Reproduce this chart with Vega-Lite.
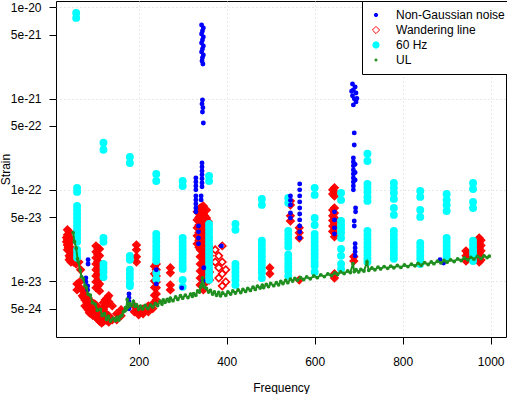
{
"$schema": "https://vega.github.io/schema/vega-lite/v6.json",
"width": 450, "height": 336,
"autosize": {"type": "none"},
"padding": {"left": 56, "top": 1, "right": 1, "bottom": 57},
"background": "white",
"config": {
 "view": {"stroke": "black", "strokeWidth": 1},
 "font": "Liberation Sans",
 "axis": {"labelFont": "Liberation Sans", "titleFont": "Liberation Sans", "labelFontSize": 12, "titleFontSize": 12, "titleFontWeight": "normal", "labelColor": "black", "titleColor": "black", "tickColor": "black", "domain": false, "tickSize": 7},
 "legend": {"orient": "none", "legendX": 306, "legendY": 0, "strokeColor": "black", "fillColor": "white", "padding": 8, "labelFont": "Liberation Sans", "labelFontSize": 12, "labelColor": "black", "rowPadding": 3, "labelOffset": 14, "symbolStrokeWidth": 1, "cornerRadius": 0, "labelLimit": 300}
},
"data": {"values": [
{"f":38,"s":3.64e-23,"type":"Wandering line"},{"f":38,"s":3.21e-23,"type":"Wandering line"},{"f":38,"s":2.83e-23,"type":"Wandering line"},{"f":38,"s":2.49e-23,"type":"Wandering line"},{"f":38,"s":2.20e-23,"type":"Wandering line"},
{"f":36,"s":3.0e-23,"type":"Wandering line"},{"f":36,"s":2.7e-23,"type":"Wandering line"},{"f":40,"s":2.6e-23,"type":"Wandering line"},{"f":40,"s":2.35e-23,"type":"Wandering line"},{"f":44,"s":3.0e-23,"type":"Wandering line"},{"f":44,"s":2.1e-23,"type":"Wandering line"},{"f":44,"s":1.8e-23,"type":"Wandering line"},
{"f":42,"s":3.46e-23,"type":"Wandering line"},{"f":42,"s":2.97e-23,"type":"Wandering line"},{"f":42,"s":2.56e-23,"type":"Wandering line"},{"f":42,"s":2.20e-23,"type":"Wandering line"},{"f":42,"s":1.89e-23,"type":"Wandering line"},{"f":42,"s":1.71e-23,"type":"Wandering line"},
{"f":46,"s":2.83e-23,"type":"Wandering line"},{"f":46,"s":2.31e-23,"type":"Wandering line"},{"f":46,"s":1.94e-23,"type":"Wandering line"},{"f":46,"s":1.62e-23,"type":"Wandering line"},
{"f":52,"s":1.89e-23,"type":"Wandering line"},{"f":52,"s":1.62e-23,"type":"Wandering line"},{"f":58,"s":1.80e-23,"type":"Wandering line"},{"f":58,"s":1.54e-23,"type":"Wandering line"},
{"f":64,"s":1.62e-23,"type":"Wandering line"},{"f":68,"s":1.33e-23,"type":"Wandering line"},{"f":60,"s":9.31e-24,"type":"Wandering line"},{"f":60,"s":8.01e-24,"type":"Wandering line"},{"f":66,"s":9.80e-24,"type":"Wandering line"},{"f":66,"s":8.43e-24,"type":"Wandering line"},
{"f":72,"s":8.01e-24,"type":"Wandering line"},{"f":72,"s":6.89e-24,"type":"Wandering line"},{"f":75,"s":7.8e-24,"type":"Wandering line"},{"f":75,"s":6.6e-24,"type":"Wandering line"},
{"f":78,"s":7.24e-24,"type":"Wandering line"},{"f":78,"s":6.22e-24,"type":"Wandering line"},{"f":78,"s":5.35e-24,"type":"Wandering line"},
{"f":82,"s":6.9e-24,"type":"Wandering line"},{"f":82,"s":5.9e-24,"type":"Wandering line"},{"f":82,"s":5.1e-24,"type":"Wandering line"},
{"f":85,"s":6.55e-24,"type":"Wandering line"},{"f":85,"s":5.62e-24,"type":"Wandering line"},{"f":85,"s":4.84e-24,"type":"Wandering line"},
{"f":88,"s":6.1e-24,"type":"Wandering line"},{"f":88,"s":5.2e-24,"type":"Wandering line"},{"f":88,"s":4.5e-24,"type":"Wandering line"},
{"f":92,"s":5.92e-24,"type":"Wandering line"},{"f":92,"s":5.08e-24,"type":"Wandering line"},{"f":92,"s":4.38e-24,"type":"Wandering line"},
{"f":96,"s":5.7e-24,"type":"Wandering line"},{"f":96,"s":4.9e-24,"type":"Wandering line"},{"f":96,"s":4.2e-24,"type":"Wandering line"},
{"f":100,"s":5.62e-24,"type":"Wandering line"},{"f":100,"s":4.84e-24,"type":"Wandering line"},{"f":100,"s":4.16e-24,"type":"Wandering line"},
{"f":104,"s":5.4e-24,"type":"Wandering line"},{"f":104,"s":4.6e-24,"type":"Wandering line"},{"f":104,"s":4.0e-24,"type":"Wandering line"},
{"f":108,"s":5.08e-24,"type":"Wandering line"},{"f":108,"s":4.38e-24,"type":"Wandering line"},{"f":108,"s":3.76e-24,"type":"Wandering line"},
{"f":112,"s":4.8e-24,"type":"Wandering line"},{"f":112,"s":4.1e-24,"type":"Wandering line"},{"f":112,"s":3.6e-24,"type":"Wandering line"},
{"f":116,"s":4.60e-24,"type":"Wandering line"},{"f":116,"s":3.95e-24,"type":"Wandering line"},{"f":116,"s":3.48e-24,"type":"Wandering line"},
{"f":120,"s":5.8e-24,"type":"Wandering line"},{"f":120,"s":4.9e-24,"type":"Wandering line"},{"f":120,"s":4.1e-24,"type":"Wandering line"},{"f":120,"s":3.6e-24,"type":"Wandering line"},
{"f":124,"s":6.22e-24,"type":"Wandering line"},{"f":124,"s":5.35e-24,"type":"Wandering line"},{"f":124,"s":4.38e-24,"type":"Wandering line"},{"f":124,"s":3.76e-24,"type":"Wandering line"},
{"f":128,"s":6.5e-24,"type":"Wandering line"},{"f":128,"s":5.6e-24,"type":"Wandering line"},{"f":128,"s":4.3e-24,"type":"Wandering line"},{"f":128,"s":3.7e-24,"type":"Wandering line"},
{"f":132,"s":6.89e-24,"type":"Wandering line"},{"f":132,"s":5.92e-24,"type":"Wandering line"},{"f":132,"s":4.16e-24,"type":"Wandering line"},{"f":132,"s":3.57e-24,"type":"Wandering line"},
{"f":140,"s":5.35e-24,"type":"Wandering line"},{"f":140,"s":3.76e-24,"type":"Wandering line"},{"f":150,"s":4.38e-24,"type":"Wandering line"},{"f":150,"s":3.76e-24,"type":"Wandering line"},
{"f":103,"s":2.43e-23,"type":"Wandering line"},{"f":103,"s":2.09e-23,"type":"Wandering line"},{"f":103,"s":1.80e-23,"type":"Wandering line"},{"f":103,"s":1.54e-23,"type":"Wandering line"},{"f":103,"s":1.33e-23,"type":"Wandering line"},{"f":103,"s":1.14e-23,"type":"Wandering line"},{"f":103,"s":9.80e-24,"type":"Wandering line"},{"f":103,"s":8.43e-24,"type":"Wandering line"},
{"f":107,"s":2.3e-23,"type":"Wandering line"},{"f":107,"s":1.95e-23,"type":"Wandering line"},{"f":107,"s":1.65e-23,"type":"Wandering line"},{"f":107,"s":1.4e-23,"type":"Wandering line"},{"f":107,"s":1.2e-23,"type":"Wandering line"},{"f":107,"s":1.02e-23,"type":"Wandering line"},{"f":107,"s":8.8e-24,"type":"Wandering line"},
{"f":111,"s":2.25e-23,"type":"Wandering line"},{"f":111,"s":1.89e-23,"type":"Wandering line"},{"f":111,"s":1.58e-23,"type":"Wandering line"},{"f":111,"s":1.33e-23,"type":"Wandering line"},{"f":111,"s":1.11e-23,"type":"Wandering line"},{"f":111,"s":9.31e-24,"type":"Wandering line"},{"f":111,"s":7.81e-24,"type":"Wandering line"},
{"f":195,"s":2.49e-23,"type":"Wandering line"},{"f":195,"s":2.20e-23,"type":"Wandering line"},{"f":195,"s":1.85e-23,"type":"Wandering line"},{"f":195,"s":1.62e-23,"type":"Wandering line"},
{"f":160,"s":4.84e-24,"type":"Wandering line"},{"f":160,"s":4.16e-24,"type":"Wandering line"},{"f":190,"s":5.35e-24,"type":"Wandering line"},{"f":190,"s":4.60e-24,"type":"Wandering line"},
{"f":200,"s":4.84e-24,"type":"Wandering line"},{"f":200,"s":4.27e-24,"type":"Wandering line"},{"f":210,"s":4.95e-24,"type":"Wandering line"},{"f":210,"s":4.38e-24,"type":"Wandering line"},
{"f":222,"s":5.35e-24,"type":"Wandering line"},{"f":222,"s":4.60e-24,"type":"Wandering line"},{"f":232,"s":5.62e-24,"type":"Wandering line"},{"f":232,"s":5.0e-24,"type":"Wandering line"},
{"f":240,"s":1.54e-23,"type":"Wandering line"},{"f":240,"s":1.33e-23,"type":"Wandering line"},{"f":240,"s":1.14e-23,"type":"Wandering line"},{"f":240,"s":9.80e-24,"type":"Wandering line"},{"f":240,"s":8.43e-24,"type":"Wandering line"},{"f":240,"s":7.24e-24,"type":"Wandering line"},{"f":240,"s":6.22e-24,"type":"Wandering line"},
{"f":236,"s":1.45e-23,"type":"Wandering line"},{"f":236,"s":1.2e-23,"type":"Wandering line"},{"f":236,"s":1.0e-23,"type":"Wandering line"},{"f":236,"s":8.5e-24,"type":"Wandering line"},{"f":236,"s":7.0e-24,"type":"Wandering line"},
{"f":272,"s":1.40e-23,"type":"Wandering line"},{"f":272,"s":1.23e-23,"type":"Wandering line"},{"f":272,"s":9.08e-24,"type":"Wandering line"},{"f":272,"s":8.01e-24,"type":"Wandering line"},
{"f":333,"s":5.73e-23,"type":"Wandering line"},{"f":333,"s":4.68e-23,"type":"Wandering line"},{"f":333,"s":3.83e-23,"type":"Wandering line"},{"f":333,"s":3.13e-23,"type":"Wandering line"},{"f":333,"s":2.56e-23,"type":"Wandering line"},
{"f":337,"s":6.0e-23,"type":"Wandering line"},{"f":337,"s":5.0e-23,"type":"Wandering line"},{"f":337,"s":4.1e-23,"type":"Wandering line"},{"f":337,"s":3.4e-23,"type":"Wandering line"},{"f":337,"s":2.8e-23,"type":"Wandering line"},{"f":337,"s":2.35e-23,"type":"Wandering line"},
{"f":340,"s":6.33e-23,"type":"Wandering line"},{"f":340,"s":5.31e-23,"type":"Wandering line"},{"f":340,"s":4.45e-23,"type":"Wandering line"},{"f":340,"s":3.74e-23,"type":"Wandering line"},{"f":340,"s":3.13e-23,"type":"Wandering line"},{"f":340,"s":2.62e-23,"type":"Wandering line"},{"f":340,"s":2.20e-23,"type":"Wandering line"},{"f":340,"s":1.85e-23,"type":"Wandering line"},{"f":340,"s":1.54e-23,"type":"Wandering line"},{"f":340,"s":1.29e-23,"type":"Wandering line"},{"f":340,"s":1.08e-23,"type":"Wandering line"},{"f":340,"s":9.08e-24,"type":"Wandering line"},
{"f":344,"s":6.5e-23,"type":"Wandering line"},{"f":344,"s":5.4e-23,"type":"Wandering line"},{"f":344,"s":4.4e-23,"type":"Wandering line"},{"f":344,"s":3.6e-23,"type":"Wandering line"},{"f":344,"s":3.0e-23,"type":"Wandering line"},{"f":344,"s":2.45e-23,"type":"Wandering line"},
{"f":347,"s":6.66e-23,"type":"Wandering line"},{"f":347,"s":5.58e-23,"type":"Wandering line"},{"f":347,"s":4.68e-23,"type":"Wandering line"},{"f":347,"s":3.92e-23,"type":"Wandering line"},{"f":347,"s":3.29e-23,"type":"Wandering line"},{"f":347,"s":2.76e-23,"type":"Wandering line"},{"f":347,"s":2.31e-23,"type":"Wandering line"},{"f":347,"s":1.94e-23,"type":"Wandering line"},{"f":347,"s":1.62e-23,"type":"Wandering line"},{"f":347,"s":1.36e-23,"type":"Wandering line"},{"f":347,"s":1.14e-23,"type":"Wandering line"},{"f":347,"s":9.55e-24,"type":"Wandering line"},{"f":347,"s":8.01e-24,"type":"Wandering line"},
{"f":350,"s":5.2e-23,"type":"Wandering line"},{"f":350,"s":4.3e-23,"type":"Wandering line"},{"f":350,"s":3.6e-23,"type":"Wandering line"},{"f":350,"s":3.0e-23,"type":"Wandering line"},{"f":350,"s":2.5e-23,"type":"Wandering line"},{"f":350,"s":2.1e-23,"type":"Wandering line"},{"f":350,"s":1.75e-23,"type":"Wandering line"},{"f":350,"s":1.45e-23,"type":"Wandering line"},{"f":350,"s":1.2e-23,"type":"Wandering line"},{"f":350,"s":1.0e-23,"type":"Wandering line"},
{"f":354,"s":6.02e-23,"type":"Wandering line"},{"f":354,"s":4.92e-23,"type":"Wandering line"},{"f":354,"s":4.02e-23,"type":"Wandering line"},{"f":354,"s":3.29e-23,"type":"Wandering line"},{"f":354,"s":2.69e-23,"type":"Wandering line"},{"f":354,"s":2.20e-23,"type":"Wandering line"},{"f":354,"s":1.80e-23,"type":"Wandering line"},{"f":354,"s":1.47e-23,"type":"Wandering line"},{"f":354,"s":1.20e-23,"type":"Wandering line"},{"f":354,"s":9.80e-24,"type":"Wandering line"},
{"f":358,"s":4.5e-23,"type":"Wandering line"},{"f":358,"s":3.7e-23,"type":"Wandering line"},{"f":358,"s":3.0e-23,"type":"Wandering line"},{"f":358,"s":2.45e-23,"type":"Wandering line"},{"f":358,"s":2.0e-23,"type":"Wandering line"},{"f":358,"s":1.65e-23,"type":"Wandering line"},{"f":358,"s":1.35e-23,"type":"Wandering line"},{"f":358,"s":1.1e-23,"type":"Wandering line"},
{"f":361,"s":2.31e-23,"type":"Wandering line"},{"f":361,"s":1.89e-23,"type":"Wandering line"},{"f":361,"s":1.54e-23,"type":"Wandering line"},{"f":361,"s":1.26e-23,"type":"Wandering line"},{"f":361,"s":1.03e-23,"type":"Wandering line"},
{"f":374,"s":2.20e-23,"type":"Wandering line"},{"f":374,"s":1.62e-23,"type":"Wandering line"},{"f":382,"s":1.89e-23,"type":"Wandering line"},{"f":382,"s":1.40e-23,"type":"Wandering line"},{"f":382,"s":1.08e-23,"type":"Wandering line"},
{"f":390,"s":2.43e-23,"type":"Wandering line"},{"f":390,"s":1.62e-23,"type":"Wandering line"},{"f":390,"s":1.20e-23,"type":"Wandering line"},{"f":390,"s":8.85e-24,"type":"Wandering line"},{"f":398,"s":1.33e-23,"type":"Wandering line"},{"f":398,"s":9.80e-24,"type":"Wandering line"},
{"f":498,"s":1.40e-23,"type":"Wandering line"},{"f":498,"s":1.20e-23,"type":"Wandering line"},
{"f":545,"s":7.56e-23,"type":"Wandering line"},{"f":545,"s":6.83e-23,"type":"Wandering line"},{"f":545,"s":5.18e-23,"type":"Wandering line"},{"f":545,"s":4.56e-23,"type":"Wandering line"},
{"f":565,"s":3.83e-23,"type":"Wandering line"},{"f":565,"s":3.38e-23,"type":"Wandering line"},{"f":565,"s":2.97e-23,"type":"Wandering line"},{"f":565,"s":1.03e-23,"type":"Wandering line"},
{"f":641,"s":1.0e-22,"type":"Wandering line"},{"f":641,"s":9.0e-23,"type":"Wandering line"},{"f":641,"s":6.0e-23,"type":"Wandering line"},{"f":641,"s":5.2e-23,"type":"Wandering line"},{"f":641,"s":4.6e-23,"type":"Wandering line"},{"f":641,"s":4.0e-23,"type":"Wandering line"},{"f":641,"s":3.5e-23,"type":"Wandering line"},
{"f":645,"s":1.05e-22,"type":"Wandering line"},{"f":645,"s":9.48e-23,"type":"Wandering line"},{"f":645,"s":8.57e-23,"type":"Wandering line"},{"f":645,"s":6.33e-23,"type":"Wandering line"},{"f":645,"s":5.58e-23,"type":"Wandering line"},{"f":645,"s":4.92e-23,"type":"Wandering line"},{"f":645,"s":4.34e-23,"type":"Wandering line"},{"f":645,"s":3.83e-23,"type":"Wandering line"},{"f":645,"s":3.38e-23,"type":"Wandering line"},{"f":645,"s":3.05e-23,"type":"Wandering line"},{"f":645,"s":1.20e-23,"type":"Wandering line"},{"f":645,"s":1.08e-23,"type":"Wandering line"},
{"f":689,"s":1.85e-23,"type":"Wandering line"},{"f":689,"s":1.66e-23,"type":"Wandering line"},
{"f":944,"s":2.14e-23,"type":"Wandering line"},{"f":944,"s":1.89e-23,"type":"Wandering line"},{"f":944,"s":1.66e-23,"type":"Wandering line"},{"f":948,"s":2.0e-23,"type":"Wandering line"},{"f":948,"s":1.75e-23,"type":"Wandering line"},
{"f":974,"s":2.97e-23,"type":"Wandering line"},{"f":974,"s":2.62e-23,"type":"Wandering line"},{"f":974,"s":2.31e-23,"type":"Wandering line"},{"f":974,"s":2.04e-23,"type":"Wandering line"},{"f":974,"s":1.80e-23,"type":"Wandering line"},{"f":974,"s":1.62e-23,"type":"Wandering line"},
{"f":978,"s":2.8e-23,"type":"Wandering line"},{"f":978,"s":2.45e-23,"type":"Wandering line"},{"f":978,"s":2.15e-23,"type":"Wandering line"},{"f":978,"s":1.9e-23,"type":"Wandering line"},{"f":978,"s":1.7e-23,"type":"Wandering line"},
{"f":58,"s":8.66e-21,"type":"60 Hz"},{"f":58,"s":7.64e-21,"type":"60 Hz"},
{"f":60,"s":1.05e-22,"type":"60 Hz"},{"f":60,"s":9.48e-23,"type":"60 Hz"},{"f":60,"s":6.66e-23,"type":"60 Hz"},{"f":60,"s":6.02e-23,"type":"60 Hz"},{"f":60,"s":5.44e-23,"type":"60 Hz"},{"f":60,"s":4.92e-23,"type":"60 Hz"},{"f":60,"s":4.45e-23,"type":"60 Hz"},{"f":60,"s":4.02e-23,"type":"60 Hz"},{"f":60,"s":3.64e-23,"type":"60 Hz"},{"f":60,"s":3.29e-23,"type":"60 Hz"},{"f":60,"s":2.97e-23,"type":"60 Hz"},{"f":60,"s":2.69e-23,"type":"60 Hz"},{"f":60,"s":2.20e-23,"type":"60 Hz"},{"f":60,"s":1.99e-23,"type":"60 Hz"},{"f":60,"s":1.80e-23,"type":"60 Hz"},
{"f":120,"s":3.27e-22,"type":"60 Hz"},{"f":120,"s":2.74e-22,"type":"60 Hz"},{"f":120,"s":2.97e-23,"type":"60 Hz"},{"f":120,"s":2.69e-23,"type":"60 Hz"},{"f":120,"s":1.54e-23,"type":"60 Hz"},{"f":120,"s":1.40e-23,"type":"60 Hz"},{"f":120,"s":1.26e-23,"type":"60 Hz"},{"f":120,"s":1.11e-23,"type":"60 Hz"},
{"f":180,"s":2.29e-22,"type":"60 Hz"},{"f":180,"s":1.97e-22,"type":"60 Hz"},{"f":180,"s":1.89e-23,"type":"60 Hz"},{"f":180,"s":1.71e-23,"type":"60 Hz"},{"f":180,"s":1.33e-23,"type":"60 Hz"},{"f":180,"s":1.20e-23,"type":"60 Hz"},{"f":180,"s":1.08e-23,"type":"60 Hz"},{"f":180,"s":9.55e-24,"type":"60 Hz"},{"f":180,"s":8.85e-24,"type":"60 Hz"},
{"f":240,"s":1.49e-22,"type":"60 Hz"},{"f":240,"s":1.25e-22,"type":"60 Hz"},{"f":240,"s":3.29e-23,"type":"60 Hz"},{"f":240,"s":2.97e-23,"type":"60 Hz"},{"f":240,"s":2.69e-23,"type":"60 Hz"},{"f":240,"s":2.43e-23,"type":"60 Hz"},{"f":240,"s":2.20e-23,"type":"60 Hz"},{"f":240,"s":1.99e-23,"type":"60 Hz"},{"f":240,"s":1.80e-23,"type":"60 Hz"},{"f":240,"s":1.66e-23,"type":"60 Hz"},{"f":240,"s":1.23e-23,"type":"60 Hz"},{"f":240,"s":1.05e-23,"type":"60 Hz"},
{"f":300,"s":1.25e-22,"type":"60 Hz"},{"f":300,"s":1.10e-22,"type":"60 Hz"},{"f":300,"s":2.97e-23,"type":"60 Hz"},{"f":300,"s":2.69e-23,"type":"60 Hz"},{"f":300,"s":2.43e-23,"type":"60 Hz"},{"f":300,"s":2.20e-23,"type":"60 Hz"},{"f":300,"s":1.99e-23,"type":"60 Hz"},{"f":300,"s":1.80e-23,"type":"60 Hz"},{"f":300,"s":1.62e-23,"type":"60 Hz"},{"f":300,"s":1.47e-23,"type":"60 Hz"},{"f":300,"s":1.36e-23,"type":"60 Hz"},{"f":300,"s":1.03e-23,"type":"60 Hz"},{"f":300,"s":8.64e-24,"type":"60 Hz"},
{"f":360,"s":1.42e-22,"type":"60 Hz"},{"f":360,"s":1.25e-22,"type":"60 Hz"},{"f":360,"s":4.23e-23,"type":"60 Hz"},{"f":360,"s":3.83e-23,"type":"60 Hz"},{"f":360,"s":3.46e-23,"type":"60 Hz"},{"f":360,"s":3.13e-23,"type":"60 Hz"},{"f":360,"s":2.83e-23,"type":"60 Hz"},{"f":360,"s":2.56e-23,"type":"60 Hz"},{"f":360,"s":2.31e-23,"type":"60 Hz"},{"f":360,"s":2.09e-23,"type":"60 Hz"},{"f":360,"s":1.89e-23,"type":"60 Hz"},{"f":360,"s":1.71e-23,"type":"60 Hz"},{"f":360,"s":1.54e-23,"type":"60 Hz"},{"f":360,"s":1.40e-23,"type":"60 Hz"},{"f":360,"s":1.26e-23,"type":"60 Hz"},{"f":360,"s":1.14e-23,"type":"60 Hz"},{"f":360,"s":1.03e-23,"type":"60 Hz"},
{"f":420,"s":4.23e-23,"type":"60 Hz"},{"f":420,"s":3.64e-23,"type":"60 Hz"},{"f":420,"s":1.54e-23,"type":"60 Hz"},{"f":420,"s":1.40e-23,"type":"60 Hz"},{"f":420,"s":1.26e-23,"type":"60 Hz"},{"f":420,"s":1.14e-23,"type":"60 Hz"},{"f":420,"s":1.03e-23,"type":"60 Hz"},{"f":420,"s":9.08e-24,"type":"60 Hz"},
{"f":480,"s":7.95e-23,"type":"60 Hz"},{"f":480,"s":6.83e-23,"type":"60 Hz"},{"f":480,"s":2.76e-23,"type":"60 Hz"},{"f":480,"s":2.50e-23,"type":"60 Hz"},{"f":480,"s":2.25e-23,"type":"60 Hz"},{"f":480,"s":2.04e-23,"type":"60 Hz"},{"f":480,"s":1.85e-23,"type":"60 Hz"},{"f":480,"s":1.66e-23,"type":"60 Hz"},{"f":480,"s":1.51e-23,"type":"60 Hz"},{"f":480,"s":1.36e-23,"type":"60 Hz"},{"f":480,"s":1.23e-23,"type":"60 Hz"},{"f":480,"s":1.08e-23,"type":"60 Hz"},
{"f":540,"s":8.15e-23,"type":"60 Hz"},{"f":540,"s":7.19e-23,"type":"60 Hz"},{"f":540,"s":3.55e-23,"type":"60 Hz"},{"f":540,"s":3.21e-23,"type":"60 Hz"},{"f":540,"s":2.90e-23,"type":"60 Hz"},{"f":540,"s":2.62e-23,"type":"60 Hz"},{"f":540,"s":2.37e-23,"type":"60 Hz"},{"f":540,"s":1.94e-23,"type":"60 Hz"},{"f":540,"s":1.76e-23,"type":"60 Hz"},{"f":540,"s":1.58e-23,"type":"60 Hz"},{"f":540,"s":1.43e-23,"type":"60 Hz"},{"f":540,"s":1.29e-23,"type":"60 Hz"},{"f":540,"s":1.14e-23,"type":"60 Hz"},
{"f":600,"s":1.05e-22,"type":"60 Hz"},{"f":600,"s":8.79e-23,"type":"60 Hz"},{"f":600,"s":4.92e-23,"type":"60 Hz"},{"f":600,"s":4.12e-23,"type":"60 Hz"},{"f":600,"s":3.29e-23,"type":"60 Hz"},{"f":600,"s":2.97e-23,"type":"60 Hz"},{"f":600,"s":2.69e-23,"type":"60 Hz"},{"f":600,"s":2.43e-23,"type":"60 Hz"},{"f":600,"s":2.20e-23,"type":"60 Hz"},{"f":600,"s":1.99e-23,"type":"60 Hz"},{"f":600,"s":1.80e-23,"type":"60 Hz"},{"f":600,"s":1.62e-23,"type":"60 Hz"},{"f":600,"s":1.47e-23,"type":"60 Hz"},{"f":600,"s":1.26e-23,"type":"60 Hz"},
{"f":660,"s":9.24e-23,"type":"60 Hz"},{"f":660,"s":7.75e-23,"type":"60 Hz"},{"f":660,"s":4.56e-23,"type":"60 Hz"},{"f":660,"s":4.12e-23,"type":"60 Hz"},{"f":660,"s":3.74e-23,"type":"60 Hz"},{"f":660,"s":3.38e-23,"type":"60 Hz"},{"f":660,"s":2.97e-23,"type":"60 Hz"},{"f":660,"s":2.25e-23,"type":"60 Hz"},{"f":660,"s":1.89e-23,"type":"60 Hz"},{"f":660,"s":1.54e-23,"type":"60 Hz"},{"f":660,"s":1.36e-23,"type":"60 Hz"},
{"f":720,"s":2.48e-22,"type":"60 Hz"},{"f":720,"s":2.07e-22,"type":"60 Hz"},{"f":720,"s":1.16e-22,"type":"60 Hz"},{"f":720,"s":1.05e-22,"type":"60 Hz"},{"f":720,"s":9.48e-23,"type":"60 Hz"},{"f":720,"s":8.36e-23,"type":"60 Hz"},{"f":720,"s":7.56e-23,"type":"60 Hz"},{"f":720,"s":3.55e-23,"type":"60 Hz"},{"f":720,"s":3.21e-23,"type":"60 Hz"},{"f":720,"s":2.90e-23,"type":"60 Hz"},{"f":720,"s":2.62e-23,"type":"60 Hz"},{"f":720,"s":2.37e-23,"type":"60 Hz"},{"f":720,"s":2.14e-23,"type":"60 Hz"},{"f":720,"s":1.94e-23,"type":"60 Hz"},{"f":720,"s":1.76e-23,"type":"60 Hz"},{"f":720,"s":1.62e-23,"type":"60 Hz"},
{"f":780,"s":1.19e-22,"type":"60 Hz"},{"f":780,"s":1.05e-22,"type":"60 Hz"},{"f":780,"s":9.24e-23,"type":"60 Hz"},{"f":780,"s":7.95e-23,"type":"60 Hz"},{"f":780,"s":6.33e-23,"type":"60 Hz"},{"f":780,"s":5.31e-23,"type":"60 Hz"},{"f":780,"s":3.55e-23,"type":"60 Hz"},{"f":780,"s":3.21e-23,"type":"60 Hz"},{"f":780,"s":2.90e-23,"type":"60 Hz"},{"f":780,"s":2.62e-23,"type":"60 Hz"},{"f":780,"s":2.37e-23,"type":"60 Hz"},{"f":780,"s":2.14e-23,"type":"60 Hz"},{"f":780,"s":1.94e-23,"type":"60 Hz"},{"f":780,"s":1.76e-23,"type":"60 Hz"},
{"f":840,"s":9.73e-23,"type":"60 Hz"},{"f":840,"s":8.36e-23,"type":"60 Hz"},{"f":840,"s":6.02e-23,"type":"60 Hz"},{"f":840,"s":5.05e-23,"type":"60 Hz"},{"f":840,"s":2.62e-23,"type":"60 Hz"},{"f":840,"s":2.37e-23,"type":"60 Hz"},{"f":840,"s":2.14e-23,"type":"60 Hz"},{"f":840,"s":1.94e-23,"type":"60 Hz"},{"f":840,"s":1.76e-23,"type":"60 Hz"},{"f":840,"s":1.54e-23,"type":"60 Hz"},
{"f":900,"s":9.01e-23,"type":"60 Hz"},{"f":900,"s":7.75e-23,"type":"60 Hz"},{"f":900,"s":6.83e-23,"type":"60 Hz"},{"f":900,"s":5.87e-23,"type":"60 Hz"},{"f":900,"s":2.97e-23,"type":"60 Hz"},{"f":900,"s":2.69e-23,"type":"60 Hz"},{"f":900,"s":2.43e-23,"type":"60 Hz"},{"f":900,"s":2.20e-23,"type":"60 Hz"},{"f":900,"s":1.99e-23,"type":"60 Hz"},{"f":900,"s":1.80e-23,"type":"60 Hz"},
{"f":960,"s":1.19e-22,"type":"60 Hz"},{"f":960,"s":1.02e-22,"type":"60 Hz"},{"f":960,"s":7.37e-23,"type":"60 Hz"},{"f":960,"s":6.33e-23,"type":"60 Hz"},{"f":960,"s":2.76e-23,"type":"60 Hz"},{"f":960,"s":2.50e-23,"type":"60 Hz"},{"f":960,"s":2.25e-23,"type":"60 Hz"},{"f":960,"s":2.04e-23,"type":"60 Hz"},{"f":960,"s":1.85e-23,"type":"60 Hz"},{"f":960,"s":1.66e-23,"type":"60 Hz"},
{"f":85,"s":1.71e-23,"type":"Non-Gaussian noise"},{"f":85,"s":1.54e-23,"type":"Non-Gaussian noise"},{"f":80,"s":1.08e-23,"type":"Non-Gaussian noise"},{"f":80,"s":9.80e-24,"type":"Non-Gaussian noise"},{"f":84,"s":8.85e-24,"type":"Non-Gaussian noise"},{"f":84,"s":8.01e-24,"type":"Non-Gaussian noise"},
{"f":178,"s":7.24e-24,"type":"Non-Gaussian noise"},{"f":178,"s":6.55e-24,"type":"Non-Gaussian noise"},{"f":178,"s":5.92e-24,"type":"Non-Gaussian noise"},{"f":178,"s":5.35e-24,"type":"Non-Gaussian noise"},{"f":178,"s":4.97e-24,"type":"Non-Gaussian noise"},
{"f":240,"s":1.33e-23,"type":"Non-Gaussian noise"},{"f":240,"s":9.31e-24,"type":"Non-Gaussian noise"},{"f":298,"s":8.43e-24,"type":"Non-Gaussian noise"},
{"f":343,"s":6.40e-21,"type":"Non-Gaussian noise"},{"f":347,"s":5.93e-21,"type":"Non-Gaussian noise"},{"f":345,"s":5.50e-21,"type":"Non-Gaussian noise"},{"f":343,"s":5.10e-21,"type":"Non-Gaussian noise"},{"f":347,"s":4.73e-21,"type":"Non-Gaussian noise"},{"f":345,"s":4.38e-21,"type":"Non-Gaussian noise"},{"f":343,"s":4.06e-21,"type":"Non-Gaussian noise"},{"f":347,"s":3.77e-21,"type":"Non-Gaussian noise"},{"f":345,"s":3.49e-21,"type":"Non-Gaussian noise"},{"f":343,"s":3.24e-21,"type":"Non-Gaussian noise"},{"f":347,"s":3.00e-21,"type":"Non-Gaussian noise"},{"f":345,"s":2.79e-21,"type":"Non-Gaussian noise"},{"f":344,"s":2.58e-21,"type":"Non-Gaussian noise"},{"f":346,"s":2.39e-21,"type":"Non-Gaussian noise"},
{"f":345,"s":9.66e-22,"type":"Non-Gaussian noise"},{"f":344,"s":8.73e-22,"type":"Non-Gaussian noise"},{"f":346,"s":7.91e-22,"type":"Non-Gaussian noise"},{"f":345,"s":7.13e-22,"type":"Non-Gaussian noise"},{"f":347,"s":5.40e-22,"type":"Non-Gaussian noise"},
{"f":344,"s":1.97e-22,"type":"Non-Gaussian noise"},{"f":344,"s":1.78e-22,"type":"Non-Gaussian noise"},{"f":344,"s":1.61e-22,"type":"Non-Gaussian noise"},{"f":344,"s":1.46e-22,"type":"Non-Gaussian noise"},{"f":344,"s":1.32e-22,"type":"Non-Gaussian noise"},{"f":344,"s":1.19e-22,"type":"Non-Gaussian noise"},{"f":344,"s":1.08e-22,"type":"Non-Gaussian noise"},
{"f":330,"s":1.35e-22,"type":"Non-Gaussian noise"},{"f":330,"s":1.22e-22,"type":"Non-Gaussian noise"},{"f":330,"s":1.10e-22,"type":"Non-Gaussian noise"},{"f":330,"s":9.98e-23,"type":"Non-Gaussian noise"},{"f":330,"s":8.57e-23,"type":"Non-Gaussian noise"},{"f":330,"s":7.75e-23,"type":"Non-Gaussian noise"},{"f":330,"s":7.01e-23,"type":"Non-Gaussian noise"},{"f":330,"s":6.33e-23,"type":"Non-Gaussian noise"},{"f":330,"s":5.73e-23,"type":"Non-Gaussian noise"},
{"f":342,"s":8.57e-23,"type":"Non-Gaussian noise"},{"f":342,"s":7.75e-23,"type":"Non-Gaussian noise"},
{"f":336,"s":4.02e-23,"type":"Non-Gaussian noise"},{"f":336,"s":3.46e-23,"type":"Non-Gaussian noise"},{"f":336,"s":2.97e-23,"type":"Non-Gaussian noise"},{"f":336,"s":2.56e-23,"type":"Non-Gaussian noise"},{"f":348,"s":1.40e-23,"type":"Non-Gaussian noise"},{"f":346,"s":1.0e-23,"type":"Non-Gaussian noise"},
{"f":388,"s":2.43e-23,"type":"Non-Gaussian noise"},
{"f":545,"s":8.57e-23,"type":"Non-Gaussian noise"},{"f":545,"s":7.66e-23,"type":"Non-Gaussian noise"},{"f":545,"s":6.83e-23,"type":"Non-Gaussian noise"},{"f":545,"s":5.58e-23,"type":"Non-Gaussian noise"},{"f":545,"s":4.92e-23,"type":"Non-Gaussian noise"},
{"f":566,"s":1.16e-22,"type":"Non-Gaussian noise"},{"f":566,"s":9.98e-23,"type":"Non-Gaussian noise"},{"f":566,"s":8.57e-23,"type":"Non-Gaussian noise"},{"f":566,"s":7.37e-23,"type":"Non-Gaussian noise"},{"f":566,"s":6.33e-23,"type":"Non-Gaussian noise"},{"f":566,"s":5.44e-23,"type":"Non-Gaussian noise"},{"f":566,"s":4.68e-23,"type":"Non-Gaussian noise"},{"f":566,"s":4.02e-23,"type":"Non-Gaussian noise"},{"f":566,"s":3.46e-23,"type":"Non-Gaussian noise"},{"f":566,"s":2.97e-23,"type":"Non-Gaussian noise"},
{"f":645,"s":5.73e-23,"type":"Non-Gaussian noise"},{"f":645,"s":4.68e-23,"type":"Non-Gaussian noise"},{"f":645,"s":3.83e-23,"type":"Non-Gaussian noise"},{"f":645,"s":3.29e-23,"type":"Non-Gaussian noise"},
{"f":686,"s":1.44e-21,"type":"Non-Gaussian noise"},{"f":692,"s":1.34e-21,"type":"Non-Gaussian noise"},{"f":688,"s":1.24e-21,"type":"Non-Gaussian noise"},{"f":684,"s":1.20e-21,"type":"Non-Gaussian noise"},{"f":694,"s":1.15e-21,"type":"Non-Gaussian noise"},{"f":686,"s":1.07e-21,"type":"Non-Gaussian noise"},{"f":696,"s":1.0e-21,"type":"Non-Gaussian noise"},{"f":690,"s":9.91e-22,"type":"Non-Gaussian noise"},{"f":694,"s":9.18e-22,"type":"Non-Gaussian noise"},{"f":688,"s":8.51e-22,"type":"Non-Gaussian noise"},
{"f":690,"s":4.20e-22,"type":"Non-Gaussian noise"},{"f":690,"s":3.10e-22,"type":"Non-Gaussian noise"},
{"f":688,"s":2.23e-22,"type":"Non-Gaussian noise"},{"f":688,"s":2.02e-22,"type":"Non-Gaussian noise"},{"f":688,"s":1.83e-22,"type":"Non-Gaussian noise"},{"f":688,"s":1.65e-22,"type":"Non-Gaussian noise"},{"f":688,"s":1.49e-22,"type":"Non-Gaussian noise"},{"f":688,"s":1.35e-22,"type":"Non-Gaussian noise"},{"f":688,"s":1.22e-22,"type":"Non-Gaussian noise"},{"f":688,"s":1.10e-22,"type":"Non-Gaussian noise"},{"f":688,"s":9.98e-23,"type":"Non-Gaussian noise"},
{"f":692,"s":1.90e-22,"type":"Non-Gaussian noise"},{"f":692,"s":1.55e-22,"type":"Non-Gaussian noise"},{"f":692,"s":1.28e-22,"type":"Non-Gaussian noise"},
{"f":693,"s":6.33e-23,"type":"Non-Gaussian noise"},{"f":693,"s":5.73e-23,"type":"Non-Gaussian noise"},{"f":690,"s":4.56e-23,"type":"Non-Gaussian noise"},{"f":690,"s":4.02e-23,"type":"Non-Gaussian noise"},
{"f":692,"s":2.56e-23,"type":"Non-Gaussian noise"},{"f":692,"s":2.31e-23,"type":"Non-Gaussian noise"},{"f":692,"s":2.09e-23,"type":"Non-Gaussian noise"},{"f":692,"s":1.89e-23,"type":"Non-Gaussian noise"},
{"f":885,"s":1.71e-23,"type":"Non-Gaussian noise"},{"f":893,"s":1.58e-23,"type":"Non-Gaussian noise"},
{"f":51,"s":3.4e-23,"type":"UL"},{"f":54,"s":2.7e-23,"type":"UL"},{"f":58,"s":2.3e-23,"type":"UL"},{"f":61,"s":1.75e-23,"type":"UL"},{"f":63,"s":1.62e-23,"type":"UL"},{"f":67,"s":1.32e-23,"type":"UL"},{"f":70,"s":1.12e-23,"type":"UL"},{"f":74,"s":1.06e-23,"type":"UL"},{"f":78,"s":8.9e-24,"type":"UL"},{"f":81,"s":8.5e-24,"type":"UL"},{"f":85,"s":7.2e-24,"type":"UL"},{"f":90,"s":7.0e-24,"type":"UL"},{"f":95,"s":5.8e-24,"type":"UL"},{"f":101,"s":5.6e-24,"type":"UL"},{"f":106,"s":4.8e-24,"type":"UL"},{"f":113,"s":4.9e-24,"type":"UL"},{"f":117,"s":4.2e-24,"type":"UL"},{"f":122,"s":4.4e-24,"type":"UL"},{"f":127,"s":3.8e-24,"type":"UL"},{"f":131,"s":4.1e-24,"type":"UL"},{"f":136,"s":3.65e-24,"type":"UL"},{"f":142,"s":3.9e-24,"type":"UL"},{"f":147,"s":3.7e-24,"type":"UL"},{"f":151,"s":4.0e-24,"type":"UL"},{"f":155,"s":3.75e-24,"type":"UL"},{"f":158,"s":4.1e-24,"type":"UL"},{"f":162,"s":4.2e-24,"type":"UL"},{"f":165,"s":4.6e-24,"type":"UL"},{"f":168,"s":4.7e-24,"type":"UL"},{"f":170,"s":5.1e-24,"type":"UL"},{"f":172,"s":4.9e-24,"type":"UL"},{"f":174,"s":6.3e-24,"type":"UL"},{"f":176,"s":5.2e-24,"type":"UL"},{"f":179,"s":5.7e-24,"type":"UL"},{"f":183,"s":5.4e-24,"type":"UL"},{"f":188,"s":6.0e-24,"type":"UL"},{"f":192,"s":5.3e-24,"type":"UL"},{"f":195,"s":5.5e-24,"type":"UL"},{"f":200,"s":4.9e-24,"type":"UL"},{"f":204,"s":5.3e-24,"type":"UL"},{"f":209,"s":4.95e-24,"type":"UL"},{"f":215,"s":5.4e-24,"type":"UL"},{"f":221,"s":5.0e-24,"type":"UL"},{"f":227,"s":5.45e-24,"type":"UL"},{"f":232,"s":5.2e-24,"type":"UL"},{"f":238,"s":5.7e-24,"type":"UL"},{"f":243,"s":5.4e-24,"type":"UL"},{"f":249,"s":6.0e-24,"type":"UL"},{"f":253,"s":5.6e-24,"type":"UL"},{"f":256,"s":6.2e-24,"type":"UL"},{"f":260,"s":5.85e-24,"type":"UL"},{"f":265,"s":6.3e-24,"type":"UL"},{"f":269,"s":6.0e-24,"type":"UL"},{"f":272,"s":6.5e-24,"type":"UL"},{"f":278,"s":6.1e-24,"type":"UL"},{"f":284,"s":6.7e-24,"type":"UL"},{"f":289,"s":6.3e-24,"type":"UL"},{"f":295,"s":6.9e-24,"type":"UL"},{"f":300,"s":6.5e-24,"type":"UL"},{"f":306,"s":7.0e-24,"type":"UL"},{"f":312,"s":6.6e-24,"type":"UL"},{"f":318,"s":7.2e-24,"type":"UL"},{"f":322,"s":6.8e-24,"type":"UL"},{"f":325,"s":7.3e-24,"type":"UL"},{"f":330,"s":7.0e-24,"type":"UL"},{"f":334,"s":7.8e-24,"type":"UL"},{"f":338,"s":7.6e-24,"type":"UL"},{"f":341,"s":8.6e-24,"type":"UL"},{"f":343,"s":9.0e-24,"type":"UL"},{"f":345,"s":1.08e-23,"type":"UL"},{"f":347,"s":9.2e-24,"type":"UL"},{"f":350,"s":8.6e-24,"type":"UL"},{"f":354,"s":8.3e-24,"type":"UL"},{"f":359,"s":7.6e-24,"type":"UL"},{"f":363,"s":7.9e-24,"type":"UL"},{"f":368,"s":7.2e-24,"type":"UL"},{"f":372,"s":7.6e-24,"type":"UL"},{"f":377,"s":7.0e-24,"type":"UL"},{"f":382,"s":7.5e-24,"type":"UL"},{"f":386,"s":6.9e-24,"type":"UL"},{"f":391,"s":7.4e-24,"type":"UL"},{"f":398,"s":7.0e-24,"type":"UL"},{"f":403,"s":7.6e-24,"type":"UL"},{"f":409,"s":7.2e-24,"type":"UL"},{"f":414,"s":7.8e-24,"type":"UL"},{"f":420,"s":7.4e-24,"type":"UL"},{"f":426,"s":8.0e-24,"type":"UL"},{"f":432,"s":7.5e-24,"type":"UL"},{"f":437,"s":8.1e-24,"type":"UL"},{"f":443,"s":7.7e-24,"type":"UL"},{"f":448,"s":8.3e-24,"type":"UL"},{"f":454,"s":7.9e-24,"type":"UL"},{"f":460,"s":8.6e-24,"type":"UL"},{"f":465,"s":8.1e-24,"type":"UL"},{"f":470,"s":8.8e-24,"type":"UL"},{"f":476,"s":8.4e-24,"type":"UL"},{"f":481,"s":9.0e-24,"type":"UL"},{"f":484,"s":8.5e-24,"type":"UL"},{"f":490,"s":9.2e-24,"type":"UL"},{"f":495,"s":8.7e-24,"type":"UL"},{"f":500,"s":9.4e-24,"type":"UL"},{"f":507,"s":8.9e-24,"type":"UL"},{"f":513,"s":9.6e-24,"type":"UL"},{"f":518,"s":9.1e-24,"type":"UL"},{"f":523,"s":9.9e-24,"type":"UL"},{"f":528,"s":9.4e-24,"type":"UL"},{"f":534,"s":1.02e-23,"type":"UL"},{"f":539,"s":9.6e-24,"type":"UL"},{"f":545,"s":1.05e-23,"type":"UL"},{"f":550,"s":1.0e-23,"type":"UL"},{"f":555,"s":1.07e-23,"type":"UL"},{"f":561,"s":1.02e-23,"type":"UL"},{"f":568,"s":1.09e-23,"type":"UL"},{"f":575,"s":1.04e-23,"type":"UL"},{"f":582,"s":1.11e-23,"type":"UL"},{"f":590,"s":1.06e-23,"type":"UL"},{"f":598,"s":1.14e-23,"type":"UL"},{"f":606,"s":1.09e-23,"type":"UL"},{"f":614,"s":1.17e-23,"type":"UL"},{"f":622,"s":1.12e-23,"type":"UL"},{"f":630,"s":1.20e-23,"type":"UL"},{"f":638,"s":1.15e-23,"type":"UL"},{"f":646,"s":1.23e-23,"type":"UL"},{"f":652,"s":1.18e-23,"type":"UL"},{"f":659,"s":1.26e-23,"type":"UL"},{"f":667,"s":1.21e-23,"type":"UL"},{"f":675,"s":1.29e-23,"type":"UL"},{"f":681,"s":1.24e-23,"type":"UL"},{"f":687,"s":1.55e-23,"type":"UL"},{"f":690,"s":1.27e-23,"type":"UL"},{"f":694,"s":1.33e-23,"type":"UL"},{"f":700,"s":1.26e-23,"type":"UL"},{"f":705,"s":1.34e-23,"type":"UL"},{"f":712,"s":1.29e-23,"type":"UL"},{"f":719,"s":1.62e-23,"type":"UL"},{"f":723,"s":1.31e-23,"type":"UL"},{"f":730,"s":1.39e-23,"type":"UL"},{"f":737,"s":1.33e-23,"type":"UL"},{"f":744,"s":1.42e-23,"type":"UL"},{"f":750,"s":1.36e-23,"type":"UL"},{"f":758,"s":1.44e-23,"type":"UL"},{"f":766,"s":1.38e-23,"type":"UL"},{"f":773,"s":1.46e-23,"type":"UL"},{"f":780,"s":1.40e-23,"type":"UL"},{"f":788,"s":1.48e-23,"type":"UL"},{"f":796,"s":1.41e-23,"type":"UL"},{"f":804,"s":1.50e-23,"type":"UL"},{"f":812,"s":1.44e-23,"type":"UL"},{"f":820,"s":1.53e-23,"type":"UL"},{"f":828,"s":1.47e-23,"type":"UL"},{"f":835,"s":1.56e-23,"type":"UL"},{"f":842,"s":1.49e-23,"type":"UL"},{"f":850,"s":1.59e-23,"type":"UL"},{"f":858,"s":1.52e-23,"type":"UL"},{"f":865,"s":1.62e-23,"type":"UL"},{"f":871,"s":1.55e-23,"type":"UL"},{"f":879,"s":1.65e-23,"type":"UL"},{"f":887,"s":1.58e-23,"type":"UL"},{"f":894,"s":1.68e-23,"type":"UL"},{"f":901,"s":1.61e-23,"type":"UL"},{"f":909,"s":1.71e-23,"type":"UL"},{"f":917,"s":1.64e-23,"type":"UL"},{"f":925,"s":1.75e-23,"type":"UL"},{"f":933,"s":1.68e-23,"type":"UL"},{"f":940,"s":1.79e-23,"type":"UL"},{"f":948,"s":1.71e-23,"type":"UL"},{"f":955,"s":1.82e-23,"type":"UL"},{"f":962,"s":1.74e-23,"type":"UL"},{"f":970,"s":1.86e-23,"type":"UL"},{"f":978,"s":1.77e-23,"type":"UL"},{"f":985,"s":1.89e-23,"type":"UL"},{"f":992,"s":1.81e-23,"type":"UL"},{"f":997,"s":1.88e-23,"type":"UL"}
]},
"encoding": {
 "x": {"field": "f", "type": "quantitative", "scale": {"domain": [12.1, 1034.9], "nice": false, "zero": false},
  "axis": {"values": [200, 400, 600, 800, 1000], "format": "d", "title": "Frequency", "grid": true, "gridColor": "#D3D3D3", "gridDash": [1, 3], "labelPadding": 12, "titleY": 50, "titleBaseline": "middle"}},
 "y": {"field": "s", "type": "quantitative", "scale": {"type": "log", "domain": [2.44e-24, 1.17e-20], "nice": false},
  "axis": {"values": [1e-20, 5e-21, 1e-21, 5e-22, 1e-22, 5e-23, 1e-23, 5e-24], "labelExpr": "format(datum.value, '.0e')", "title": "Strain", "grid": true, "gridColor": "#D3D3D3", "gridDash": [1, 3],
   "gridOpacity": {"condition": {"test": "abs(log(datum.value)/LN10 - round(log(datum.value)/LN10)) < 0.01", "value": 1}, "value": 0},
   "labelPadding": 8, "titleX": -51, "titleY": 168, "titleBaseline": "middle", "titleAlign": "center"}}
},
"layer": [
 {"transform": [{"filter": "datum.type === 'Wandering line' && (datum.f < 370 || datum.f > 400)"}],
  "mark": {"type": "point", "shape": "diamond", "filled": true, "color": "#FF0000", "size": 34, "opacity": 1, "strokeWidth": 0}},
 {"mark": {"type": "point", "filled": true, "opacity": 1, "strokeWidth": 1.6},
  "encoding": {
   "shape": {"field": "type", "type": "nominal", "title": null, "scale": {"domain": ["Non-Gaussian noise", "Wandering line", "60 Hz", "UL"], "range": ["circle", "diamond", "circle", "circle"]}},
   "fill": {"field": "type", "type": "nominal", "title": null, "scale": {"domain": ["Non-Gaussian noise", "Wandering line", "60 Hz", "UL"], "range": ["#0000FF", "transparent", "#00FFFF", "#1F8F1F"]}},
   "stroke": {"field": "type", "type": "nominal", "title": null, "scale": {"domain": ["Non-Gaussian noise", "Wandering line", "60 Hz", "UL"], "range": ["#0000FF", "#FF0000", "#00FFFF", "#1F8F1F"]}},
   "size": {"field": "type", "type": "nominal", "title": null, "scale": {"type": "ordinal", "domain": ["Non-Gaussian noise", "Wandering line", "60 Hz", "UL"], "range": [11, 52, 40, 5]}}
  }},
 {"transform": [{"filter": "datum.type === 'UL'"}],
  "mark": {"type": "line", "color": "#1F8F1F", "strokeWidth": 2}}
]
}
